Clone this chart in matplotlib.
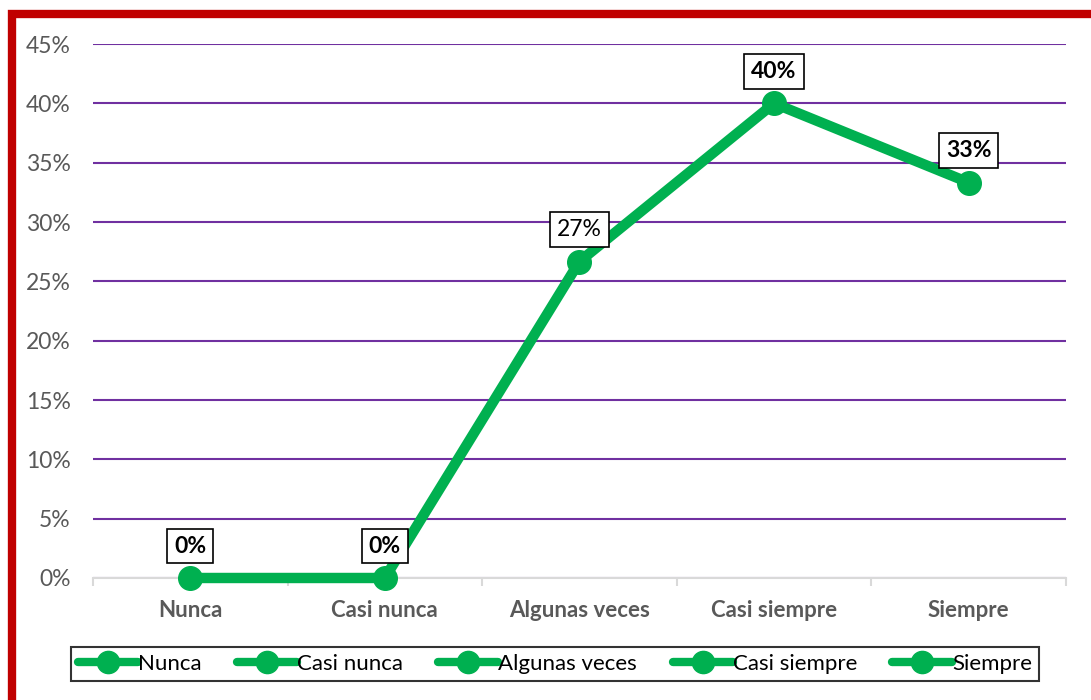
import matplotlib.pyplot as plt
from matplotlib.lines import Line2D
from matplotlib.patches import Rectangle
from matplotlib.ticker import PercentFormatter

plt.rcParams['font.family'] = ['Lato', 'DejaVu Sans']

categories = ["Nunca", "Casi nunca", "Algunas veces", "Casi siempre", "Siempre"]
values = [0.0, 0.0, 0.2667, 0.40, 0.3333]
labels = ["0%", "0%", "27%", "40%", "33%"]
label_bold = [True, True, False, True, True]

green = "#00B050"
purple = "#7030A0"

fig = plt.figure(figsize=(10.91, 7.0), dpi=100)
ax = fig.add_axes([0.0852, 0.1743, 0.8918, 0.7628])

x = list(range(len(categories)))
ax.plot(x, values, color=green, lw=7.5, marker="o", markersize=17,
        solid_capstyle="round", zorder=3, clip_on=False)

for xi, v, lab, b in zip(x, values, labels, label_bold):
    ax.annotate(lab, (xi, v), xytext=(0, 23), textcoords="offset points",
                ha="center", va="center", fontsize=16.5,
                fontweight="bold" if b else "normal", color="black",
                bbox=dict(boxstyle="square,pad=0.3", fc="white", ec="black", lw=1.2),
                zorder=5)

ax.set_xlim(-0.5, len(categories) - 0.5)
ax.set_ylim(0, 0.45)
ax.set_yticks([i * 0.05 for i in range(10)])
ax.yaxis.set_major_formatter(PercentFormatter(1.0, decimals=0))
ax.grid(axis="y", color=purple, lw=1.5)
ax.set_axisbelow(True)

ax.set_xticks(x)
ax.set_xticklabels(categories, fontsize=16, fontweight="bold", color="#595959")
ax.set_xticks([i - 0.5 for i in range(len(categories) + 1)], minor=True)
ax.tick_params(axis="x", which="major", length=0, pad=16)
ax.tick_params(axis="x", which="minor", length=6, color="#D9D9D9", width=1.5)
ax.tick_params(axis="y", length=0, labelsize=16.5, labelcolor="#595959", pad=16)

for side in ["top", "right", "left"]:
    ax.spines[side].set_visible(False)
ax.spines["bottom"].set_color("#D9D9D9")
ax.spines["bottom"].set_linewidth(1.5)

handles = [Line2D([0], [0], color=green, lw=6, marker="o", markersize=16,
                  solid_capstyle="round") for _ in categories]
leg = fig.legend(handles, categories, loc="center", ncol=5,
                 bbox_to_anchor=(0.5087, 0.0514), fontsize=16, frameon=True,
                 fancybox=False, edgecolor="black", handlelength=2.7,
                 handletextpad=0.0, columnspacing=1.6, borderpad=0.3)
leg.get_frame().set_linewidth(1.5)

fig.patches.append(Rectangle((12 / 1091, -2 / 700), 1.1, 1 - 12 / 700,
                             transform=fig.transFigure, fill=False,
                             ec="#C00000", lw=6, zorder=10))

fig.savefig("out.png", dpi=100)
